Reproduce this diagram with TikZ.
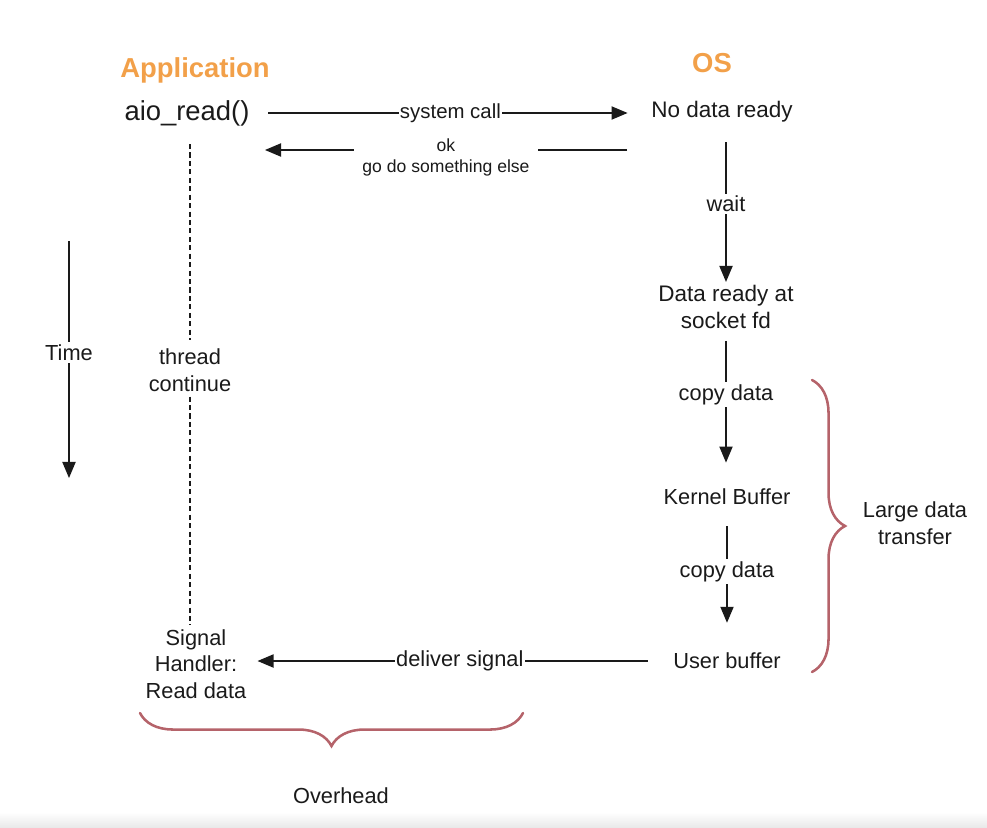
\documentclass[tikz,border=0pt]{standalone}
\usepackage{fontspec}
\setmainfont{Liberation Sans}
\usetikzlibrary{arrows.meta,decorations.pathreplacing,calc}
\definecolor{aporange}{HTML}{F2A049}
\definecolor{apbrace}{HTML}{B5636A}
\definecolor{apline}{HTML}{1A1A1A}

\begin{document}
\begin{tikzpicture}[
      x=0.025cm, y=-0.025cm,
      font=\fontsize{15.5}{19}\selectfont,
      txt/.style={inner sep=0pt, align=center, text=apline},
      big/.style={txt, font=\fontsize{16}{19.5}\selectfont},
      head/.style={txt, font=\fontsize{19.5}{23}\selectfont\bfseries, text=aporange},
      arr/.style={-{Triangle[length=4mm,width=3.3mm]}, line width=0.9pt, draw=apline},
      thr/.style={line width=0.8pt, draw=apline, dash pattern=on 3.6pt off 2.4pt},
      lab/.style={fill=white, inner sep=1.5pt, text=apline},
      brc/.style={decorate, decoration={brace, amplitude=23.5pt}, draw=apbrace,
                  line width=1.8pt, line cap=round}
    ]
    \useasboundingbox (0,0) rectangle (987,828);
    \shade[top color=white, bottom color=black!9] (0,812) rectangle (987,828);

    \node[head] (app) at (195,70) {Application};
    \node[head] (os) at (712,63) {OS};

    \node[txt, font=\fontsize{19.5}{23}\selectfont] (aio) at (187,113) {aio\_read()};
    \node[big] (nodata) at (722,112) {No data ready};
    \node[big] (ready) at (726,307) {Data ready at\\socket fd};
    \node[txt] (kernel) at (727,497) {Kernel Buffer};
    \node[txt] (user) at (727,661) {User buffer};
    \node[txt] (thread) at (190,370) {thread\\continue};
    \node[txt] (handler) at (196,664) {Signal\\Handler:\\Read data};
    \node[txt] (large) at (915,523) {Large data\\transfer};
    \node[txt] (over) at (341,796) {Overhead};

    \coordinate (ret0) at (627,150);
    \coordinate (ret1) at (265,150);
    \coordinate (t0) at (69,241);
    \coordinate (t1) at (69,478);

    \draw[arr, shorten <=13pt, shorten >=16.7pt] (aio.east) -- (aio.east -| nodata.west)
      node[midway, lab, inner sep=1pt, font=\fontsize{14.5}{17}\selectfont] (sys) {system call};
    \draw[arr] (ret0) -- (ret1)
      node[midway, lab, yshift=-5pt, inner xsep=5.7pt, font=\fontsize{12.5}{15}\selectfont,
           align=center] (okgo) {ok\\go do something else};

    \draw[arr, shorten <=14pt, shorten >=2pt] (ready.north |- nodata.south) -- (ready.north)
      node[midway, lab] (wait) {wait};
    \draw[arr, shorten <=8.3pt, shorten >=18.6pt] (ready.south) -- (ready.south |- kernel.north)
      node[pos=0.41, lab] (copy1) {copy data};
    \draw[arr, shorten <=15pt, shorten >=21.3pt] (kernel.south) -- (user.north)
      node[pos=0.45, lab] (copy2) {copy data};

    \draw[arr, shorten <=17.8pt, shorten >=7.8pt] (user.west) -- (user.west -| handler.east)
      node[midway, lab, inner sep=1pt] (deliver) {deliver signal};

    \draw[thr, shorten <=12.8pt, shorten >=5.7pt] (thread.north |- aio.south) -- (thread.north);
    \draw[thr, shorten <=3.5pt, shorten >=2.5pt] (thread.south) -- (thread.south |- handler.north);

    \draw[arr] (t0) -- node[pos=0.47, lab] (time) {Time} (t1);

    \draw[brc] (812,380) -- (812,672);
    \draw[brc] (523,713) -- (140,713);
  \end{tikzpicture}
\end{document}
